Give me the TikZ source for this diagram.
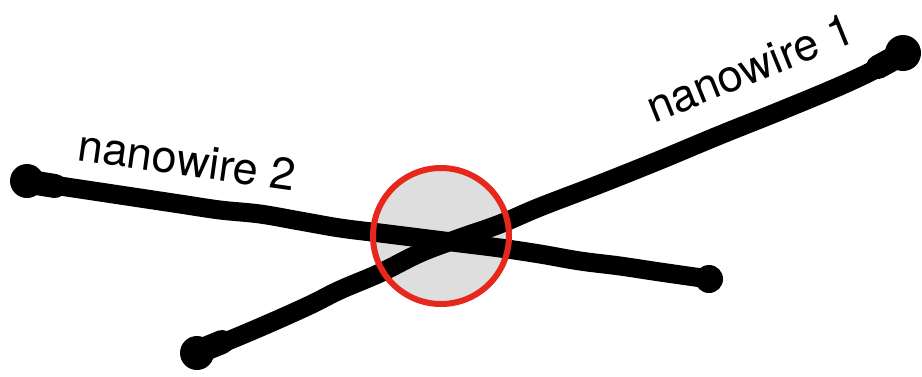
\documentclass[tikz,border=0pt]{standalone}
\usepackage{fontspec}
\setmainfont{TeX Gyre Heros}
\definecolor{ringred}{HTML}{E5281B}
\definecolor{spotgray}{HTML}{DEDEDE}
\tikzset{
  wire/.style={line width=19pt, line cap=round, line join=round, black},
  neck/.style={black, line width=24pt, line cap=round},
  blob/.style={fill=black, draw=none},
  wirelabel/.style={font=\fontsize{45}{48}\selectfont, inner sep=0pt, text=black}
}
\begin{document}
\begin{tikzpicture}[x=1pt,y=-1pt]
\useasboundingbox (0,0) rectangle (922,376);
% contact spot fill
\fill[spotgray] (441,236) circle (68);
% nanowire 2
\draw[wire] plot[smooth, tension=0.6] coordinates {
  (28,181) (60,186) (100,192) (140,198) (180,204) (220,210) (260,214)
  (300,221) (340,228) (380,233) (420,238) (460,243) (500,248) (540,254)
  (580,261) (620,266) (660,272) (709,279)};
\fill[blob] (27,181) circle (17);
\draw[neck] (30,182) -- (55,186);
\fill[blob] (709,279) circle (14);
% nanowire 1
\draw[wire] plot[smooth, tension=0.6] coordinates {
  (197,353) (230,340) (270,323) (310,305) (340,290) (380,273)
  (420,253) (460,238) (500,224) (540,207) (600,184) (660,160)
  (720,135) (780,111) (840,86) (880,67) (903,53)};
\fill[blob] (197,353) circle (17);
\draw[neck] (200,351) -- (222,342);
\fill[blob] (903,53) circle (18);
\draw[neck] (900,55) -- (878,67);
% contact ring
\draw[ringred, line width=6pt] (441,236) circle (68);
% labels
\node[wirelabel, rotate=-8] (lab2) at (187,160) {nanowire 2};
\node[wirelabel, rotate=22] (lab1) at (750,68) {nanowire 1};
\end{tikzpicture}
\end{document}
